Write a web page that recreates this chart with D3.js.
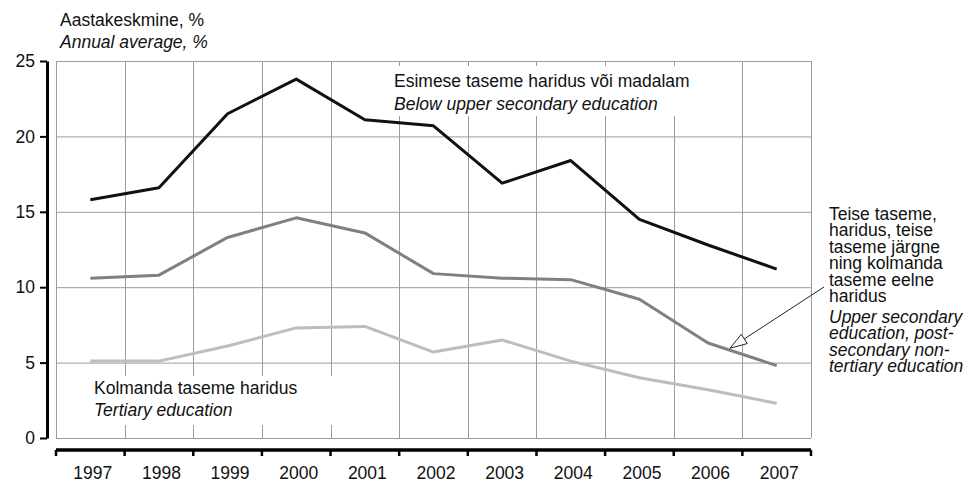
<!DOCTYPE html>
<html>
<head>
<meta charset="utf-8">
<script src="https://cdn.jsdelivr.net/npm/d3@7"></script>
<style>
  body { margin: 0; background: #fff; }
  svg { display: block; font-family: "Liberation Sans", Arial, sans-serif; }
</style>
</head>
<body>
<script>
// data
const years = [1997, 1998, 1999, 2000, 2001, 2002, 2003, 2004, 2005, 2006, 2007];
const belowUpper = [15.8, 16.6, 21.5, 23.8, 21.1, 20.7, 16.9, 18.4, 14.5, 12.8, 11.2];
const upperSecondary = [10.6, 10.8, 13.3, 14.6, 13.6, 10.9, 10.6, 10.5, 9.2, 6.3, 4.8];
const tertiary = [5.1, 5.1, 6.1, 7.3, 7.4, 5.7, 6.5, 5.1, 4.0, 3.2, 2.3];
const yTicks = [0, 5, 10, 15, 20, 25];

const series = [
  { key: "tertiary", values: tertiary, color: "#bdbdbd", width: 3 },
  { key: "upper", values: upperSecondary, color: "#808080", width: 3 },
  { key: "below", values: belowUpper, color: "#111111", width: 3 },
];

const W = 975, H = 483;
const fs = 17.5;

const svg = d3.select("body").append("svg").attr("width", W).attr("height", H);

const x = d3.scaleBand().domain(years).range([56, 811]);
const y = d3.scaleLinear().domain([0, 25]).range([438, 61]);
const cx = (yr) => x(yr) + x.bandwidth() / 2;

// grid
const grid = svg.append("g").attr("stroke", "#9c9c9c").attr("stroke-width", 1);
grid.selectAll("line.h").data(yTicks).join("line")
  .attr("x1", 56).attr("x2", 811)
  .attr("y1", d => y(d) + 0.5).attr("y2", d => y(d) + 0.5);
const bounds = years.map(d => x(d)).concat([x.range()[1]]);
grid.selectAll("line.v").data(bounds).join("line")
  .attr("x1", d => Math.round(d) + 0.5).attr("x2", d => Math.round(d) + 0.5)
  .attr("y1", y(25)).attr("y2", y(0));

// white boxes behind labels (they cut the grid)
svg.append("rect").attr("x", 386).attr("y", 66).attr("width", 310).attr("height", 50).attr("fill", "#fff");
svg.append("rect").attr("x", 86).attr("y", 376).attr("width", 258).attr("height", 49).attr("fill", "#fff");

// lines
const line = d3.line().x((d, i) => cx(years[i])).y(d => y(d));
svg.selectAll("path.series").data(series).join("path")
  .attr("class", "series")
  .attr("fill", "none")
  .attr("stroke", d => d.color)
  .attr("stroke-width", d => d.width)
  .attr("stroke-linejoin", "round")
  .attr("d", d => line(d.values));

// y axis
const yAxis = svg.append("g")
  .attr("transform", "translate(47,0)")
  .call(d3.axisLeft(y).tickValues(yTicks).tickSize(7).tickSizeOuter(0).tickPadding(5));
yAxis.select(".domain").attr("stroke", "#000").attr("stroke-width", 3);
yAxis.selectAll(".tick line").attr("stroke", "#000").attr("stroke-width", 2);
yAxis.selectAll(".tick text").attr("font-size", fs).attr("fill", "#111").attr("font-family", null);

// x axis
const xAxis = svg.append("g");
xAxis.append("line")
  .attr("x1", 56).attr("x2", 811).attr("y1", 450).attr("y2", 450)
  .attr("stroke", "#000").attr("stroke-width", 3.5);
xAxis.selectAll("line.tk").data(bounds).join("line")
  .attr("x1", d => d).attr("x2", d => d)
  .attr("y1", 450).attr("y2", 456)
  .attr("stroke", "#000").attr("stroke-width", 2.5);
xAxis.selectAll("text").data(years).join("text")
  .attr("x", d => cx(d) + 2.5).attr("y", 479)
  .attr("text-anchor", "middle")
  .attr("font-size", fs).attr("fill", "#111")
  .text(d => d);

// texts
function label(lines, x0, y0, dy, size) {
  const t = svg.append("text").attr("font-size", size || fs).attr("fill", "#111");
  lines.forEach((l, i) => {
    t.append("tspan").attr("x", x0).attr("y", y0 + (l.dy != null ? l.dy : i * dy))
      .attr("font-style", l.it ? "italic" : null).text(l.t);
  });
}
label([{ t: "Aastakeskmine, %" }, { t: "Annual average, %", it: true }], 60, 26, 21.7);
label([{ t: "Esimese taseme haridus või madalam" }, { t: "Below upper secondary education", it: true }], 394, 87, 23);
label([{ t: "Kolmanda taseme haridus" }, { t: "Tertiary education", it: true }], 94, 394, 21.7);
label([
  { t: "Teise taseme,", dy: 0 },
  { t: "haridus, teise", dy: 16.5 },
  { t: "taseme järgne", dy: 33 },
  { t: "ning kolmanda", dy: 49.5 },
  { t: "taseme eelne", dy: 66 },
  { t: "haridus", dy: 82.5 },
  { t: "Upper secondary", it: true, dy: 103 },
  { t: "education, post-", it: true, dy: 119.5 },
  { t: "secondary non-", it: true, dy: 136 },
  { t: "tertiary education", it: true, dy: 152.5 },
], 829, 219.5, 16.5);

// arrow pointing at the upper-secondary line between 2006 and 2007
const t = 0.32;
const tip = [
  cx(2006) + t * (cx(2007) - cx(2006)),
  y(upperSecondary[9]) + t * (y(upperSecondary[10]) - y(upperSecondary[9])) - 2,
];
const tail = [824, 287];
const dx = tail[0] - tip[0], dyv = tail[1] - tip[1];
const len = Math.hypot(dx, dyv);
const ux = dx / len, uy = dyv / len;
const headLen = 17, headHalf = 5.5;
const base = [tip[0] + ux * headLen, tip[1] + uy * headLen];
svg.append("line")
  .attr("x1", base[0]).attr("y1", base[1]).attr("x2", tail[0]).attr("y2", tail[1])
  .attr("stroke", "#222").attr("stroke-width", 1);
svg.append("path")
  .attr("d", d3.line()([
    tip,
    [base[0] - uy * headHalf, base[1] + ux * headHalf],
    [base[0] + uy * headHalf, base[1] - ux * headHalf],
  ]) + "Z")
  .attr("fill", "#fff").attr("stroke", "#222").attr("stroke-width", 1);
</script>
</body>
</html>
